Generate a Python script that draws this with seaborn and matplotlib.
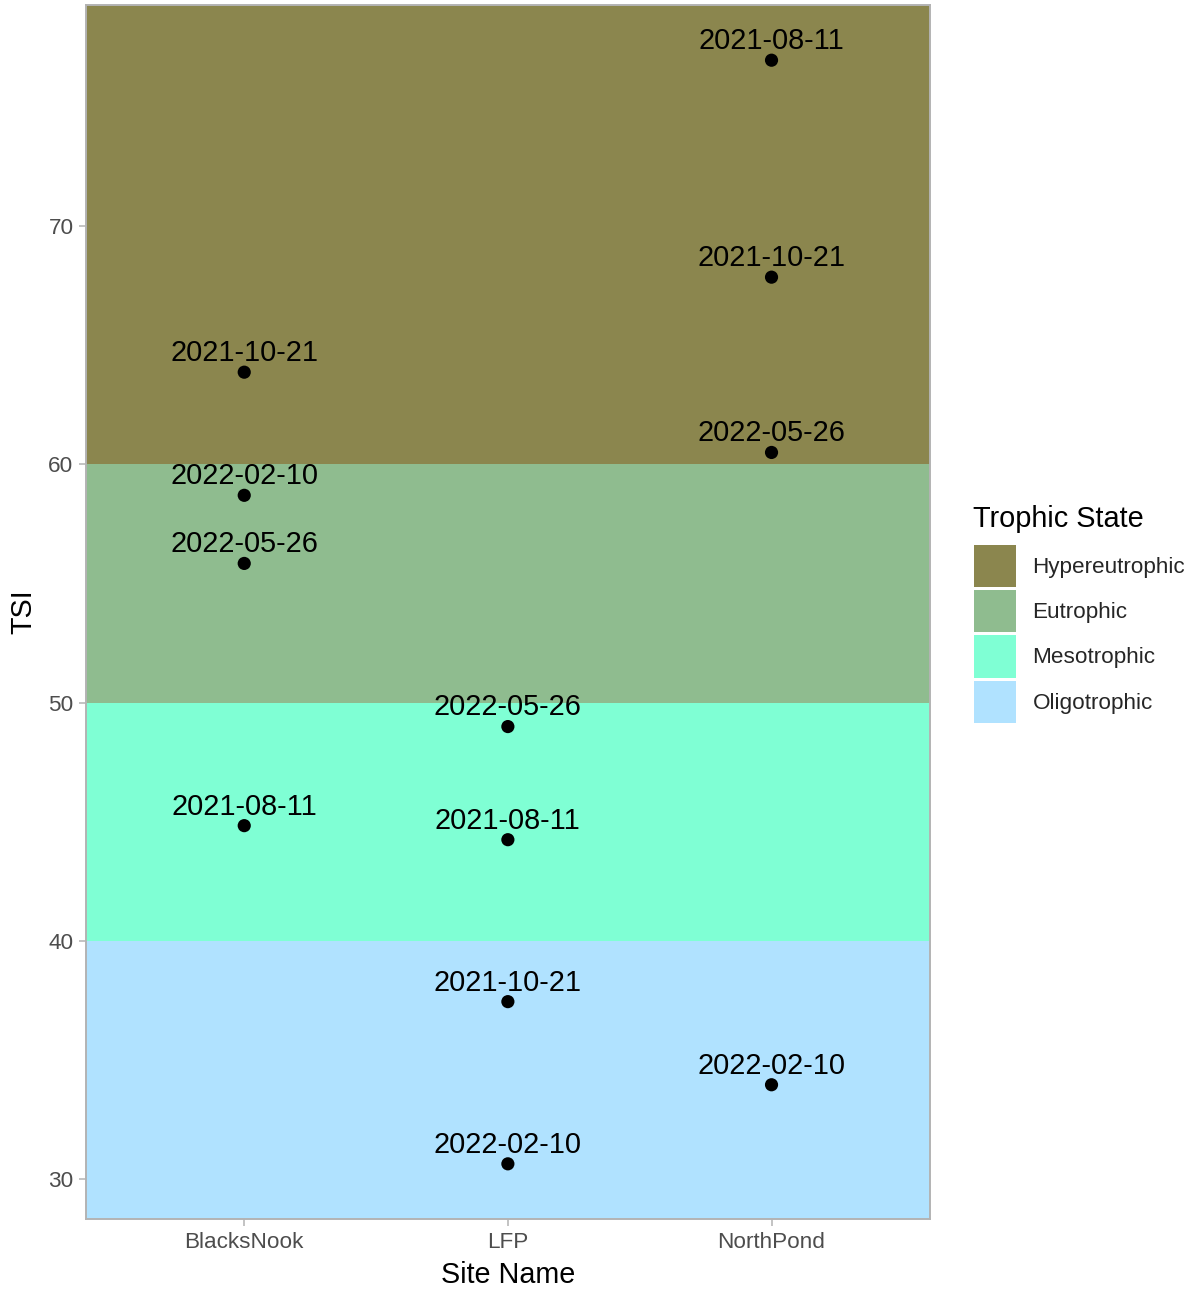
import numpy as np
import pandas as pd
import matplotlib
matplotlib.use("Agg")
import matplotlib.pyplot as plt
from matplotlib.patches import Patch
import seaborn as sns

# 数据
site_order = ["BlacksNook", "LFP", "NorthPond"]
sites = ["BlacksNook"] * 4 + ["LFP"] * 4 + ["NorthPond"] * 4
dates = ["2021-08-11", "2021-10-21", "2022-02-10", "2022-05-26",
         "2021-08-11", "2021-10-21", "2022-02-10", "2022-05-26",
         "2021-08-11", "2021-10-21", "2022-02-10", "2022-05-26"]
tsi = [44.83, 63.87, 58.70, 55.84,
       44.24, 37.44, 30.63, 48.99,
       76.97, 67.86, 33.95, 60.50]

# 营养状态分区
state_names = ["Oligotrophic", "Mesotrophic", "Eutrophic", "Hypereutrophic"]
state_lower = [-np.inf, 40, 50, 60]
state_upper = [40, 50, 60, np.inf]
state_colors = ["#B0E2FF", "#7FFFD4", "#8FBC8F", "#8B864E"]

df = pd.DataFrame({"site": sites, "date": dates, "tsi": tsi})

sns.set_style("white")
plt.rcParams['font.family'] = ['Liberation Sans', 'DejaVu Sans']

fig = plt.figure(figsize=(11.95, 12.89), dpi=100)
ax = fig.add_axes([0.072, 0.0543, 0.706, 0.9418])

# 坐标范围（模仿ggplot的扩展）
lo, hi = min(tsi), max(tsi)
pad = (hi - lo) * 0.05
ymin, ymax = lo - pad, hi + pad

for name, a, b, c in zip(state_names, state_lower, state_upper, state_colors):
    ax.axhspan(max(a, ymin), min(b, ymax), color=c, lw=0, zorder=0)

sns.scatterplot(data=df, x="site", y="tsi", color="black", s=90,
                edgecolor="none", ax=ax, zorder=3)

pos = {s: i for i, s in enumerate(site_order)}
for s, d, v in zip(sites, dates, tsi):
    ax.annotate(d, (pos[s], v), xytext=(0, 8.0), textcoords="offset points",
                ha="center", va="baseline", fontsize=20.8, color="black", zorder=4)

ax.set_xlim(-0.6, len(site_order) - 0.4)
ax.set_ylim(ymin, ymax)
ax.set_yticks([30, 40, 50, 60, 70])
ax.set_xticks(range(len(site_order)))
ax.set_xticklabels(site_order)

ax.set_xlabel("Site Name", fontsize=20.7, color="black", labelpad=6)
ax.set_ylabel("TSI", fontsize=20.7, color="black", labelpad=8)
ax.tick_params(axis="both", colors="#B3B3B3", labelcolor="#4D4D4D",
               labelsize=16.2, length=5, width=1.1, pad=4, left=True, bottom=True)
for sp in ax.spines.values():
    sp.set_color("#B3B3B3")
    sp.set_linewidth(1.4)
ax.grid(False)

# 图例
fig.text(973 / 1195, 1 - 527 / 1289, "Trophic State", fontsize=20.8,
         color="black", ha="left", va="baseline")
handles = [Patch(facecolor=c, edgecolor="none", label=n)
           for n, c in zip(state_names[::-1], state_colors[::-1])]
leg = fig.legend(handles=handles, loc="upper left",
                 bbox_to_anchor=(974 / 1195, 1 - 545 / 1289), frameon=False,
                 fontsize=16.2, handlelength=1.88, handleheight=2.5,
                 labelspacing=0.14, handletextpad=0.72, borderpad=0, borderaxespad=0)

fig.savefig("out.png", dpi=100)
